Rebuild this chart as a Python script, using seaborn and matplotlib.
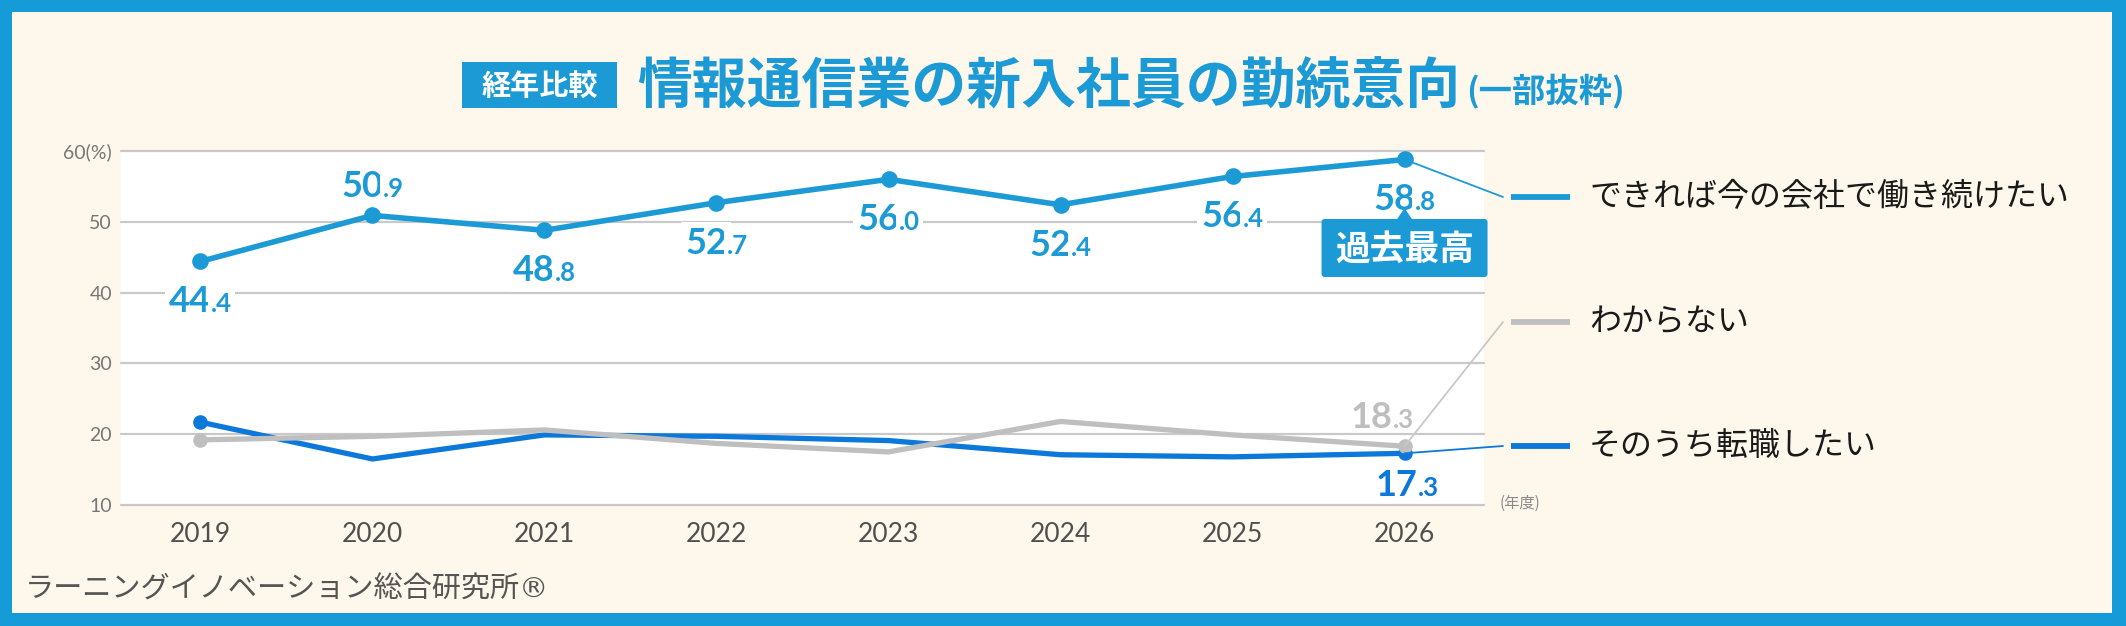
import matplotlib
matplotlib.use("Agg")
import matplotlib.pyplot as plt
from matplotlib.patches import Rectangle, FancyBboxPatch, Polygon
from matplotlib.lines import Line2D
from matplotlib.transforms import IdentityTransform
import seaborn as sns

# ---------------- data ----------------
years = [2019, 2020, 2021, 2022, 2023, 2024, 2025, 2026]
stay_values = [44.4, 50.9, 48.8, 52.7, 56.0, 52.4, 56.4, 58.8]
unknown_values = [19.2, 19.7, 20.6, 18.7, 17.5, 21.8, 19.9, 18.3]
change_values = [21.7, 16.5, 19.9, 19.7, 19.1, 17.1, 16.8, 17.3]
series_labels = ["できれば今の会社で働き続けたい", "わからない", "そのうち転職したい"]
y_ticks = [10, 20, 30, 40, 50, 60]
y_tick_labels = ["10", "20", "30", "40", "50", "60(%)"]
x_tick_labels = ["2019", "2020", "2021", "2022", "2023", "2024", "2025", "2026"]
title_tag = "経年比較"
title_main = "情報通信業の新入社員の勤続意向"
title_sub = "(一部抜粋)"
badge_text = "過去最高"
source_text = "ラーニングイノベーション総合研究所®"
x_unit_text = "(年度)"

# label placement for the top series (above / below the point)
stay_label_side = ["below", "above", "below", "below", "below", "below", "below", "below"]

# ---------------- style ----------------
W, H = 2126, 626
FRAME = "#159BD7"
CREAM = "#FDF8EB"
C_STAY = "#1C9AD6"
C_CHANGE = "#0C78D9"
C_UNK = "#BFBFBF"
JP = ["Noto Sans CJK JP", "DejaVu Sans"]
NUM = ["Lato", "DejaVu Sans"]

sns.set_style("white")
plt.rcParams["font.family"] = JP

fig = plt.figure(figsize=(W / 100, H / 100), dpi=100)
fig.patch.set_facecolor(FRAME)


def fx(x):
    return x / W


def fy(y):
    return 1 - y / H


fig.add_artist(Rectangle((fx(12), fy(613)), (2112 - 12) / W, (613 - 12) / H,
                         transform=fig.transFigure, fc=CREAM, ec="none", zorder=0))

ax = fig.add_axes([fx(121), fy(505), (1484 - 121) / W, (505 - 151) / H])
ax.set_zorder(1)
ax.set_facecolor("white")

# ---------------- lines ----------------
last = len(years) - 1
sns.lineplot(x=years, y=change_values, color=C_CHANGE, lw=3.8, marker="o",
             markevery=[0, last], ms=10.5, markeredgecolor=C_CHANGE,
             markeredgewidth=0, ax=ax, zorder=6, legend=False)
sns.lineplot(x=years, y=unknown_values, color=C_UNK, lw=3.8, marker="o",
             markevery=[0, last], ms=10.5, markeredgecolor=C_UNK,
             markeredgewidth=0, ax=ax, zorder=7, legend=False)
sns.lineplot(x=years, y=stay_values, color=C_STAY, lw=4.0, marker="o",
             ms=12, markeredgecolor=C_STAY, markeredgewidth=0, ax=ax,
             zorder=8, legend=False)

ax.set_xlim(years[0] - 0.462, years[-1] + 0.462)
ax.set_ylim(y_ticks[0], y_ticks[-1])
ax.set_yticks(y_ticks, y_tick_labels)
ax.set_xticks(years, x_tick_labels)
ax.set_xlabel("")
ax.set_ylabel("")
for s in ax.spines.values():
    s.set_visible(False)
ax.set_axisbelow(True)
ax.yaxis.grid(True, color="#C9C9C9", lw=1.6)
ax.xaxis.grid(False)
for gl in ax.yaxis.get_gridlines():
    gl.set_clip_on(False)
ax.tick_params(axis="y", length=0, pad=6.5, labelsize=14, labelcolor="#777777")
ax.tick_params(axis="x", length=0, pad=12, labelsize=19, labelcolor="#505050")
for t in ax.get_yticklabels() + ax.get_xticklabels():
    t.set_fontfamily(NUM)
    t.set_fontweight("normal")

# ---------------- value labels ----------------
composite = []


def value_label(x, y, value, color, dy, dx=0, big=26, small=18.5, box=True):
    s = f"{value:.1f}"
    ip, dp = s.split(".")
    bbox = dict(boxstyle="square,pad=0.12", fc="white", ec="none") if box else None
    t1 = ax.annotate(ip, (x, y), xytext=(0, dy), textcoords="offset pixels",
                     ha="right", va="baseline", fontsize=big, fontweight="bold",
                     color=color, family=NUM, bbox=bbox, zorder=5,
                     annotation_clip=False)
    t2 = ax.annotate("." + dp, (x, y), xytext=(0, dy), textcoords="offset pixels",
                     ha="left", va="baseline", fontsize=small, fontweight="bold",
                     color=color, family=NUM, bbox=bbox, zorder=5,
                     annotation_clip=False)
    composite.append((t1, t2, dx, dy))


for xv, yv, side in zip(years, stay_values, stay_label_side):
    value_label(xv, yv, yv, C_STAY, 18 if side == "above" else -51)

value_label(years[-1], unknown_values[-1], unknown_values[-1], C_UNK, 18, dx=-22, box=False)
value_label(years[-1], change_values[-1], change_values[-1], C_CHANGE, -43, dx=3, box=False)

renderer = fig.canvas.get_renderer()
for t1, t2, dx, dy in composite:
    w1 = t1.get_window_extent(renderer).width
    w2 = t2.get_window_extent(renderer).width
    off = dx - (w2 - w1) / 2.0
    t1.xyann = (off, dy)
    t2.xyann = (off, dy)


def data_to_img(x, y):
    px, py = ax.transData.transform((x, y))
    return px, H - py


# ---------------- badge 過去最高 ----------------
bx, by = data_to_img(years[-1], stay_values[-1])
box_w, box_top, box_bot = 166, by + 59.5, by + 117.5
ax.add_artist(FancyBboxPatch((bx - box_w / 2, H - box_bot), box_w, box_bot - box_top,
                             boxstyle="round,pad=0,rounding_size=3",
                             transform=IdentityTransform(), fc=C_STAY, ec="none",
                             clip_on=False, zorder=9))
ax.add_artist(Polygon([(bx - 8, H - box_top - 1), (bx + 8, H - box_top - 1), (bx, H - (by + 48.5))],
                      closed=True, transform=IdentityTransform(), fc=C_STAY, ec="none",
                      clip_on=False, zorder=9))
fig.text(fx(bx), fy((box_top + box_bot) / 2 + 1), badge_text, ha="center", va="center",
         fontsize=25, fontweight="bold", color="white", family=JP, zorder=10)

# ---------------- legend with connectors ----------------
legend_y = [197, 322, 446]
legend_colors = [C_STAY, C_UNK, C_CHANGE]
end_values = [stay_values[-1], unknown_values[-1], change_values[-1]]
conn_colors = [C_STAY, "#C8C8C8", C_CHANGE]
for ly, col, ccol, ev, lab in zip(legend_y, legend_colors, conn_colors, end_values, series_labels):
    px, py = data_to_img(years[-1], ev)
    fig.add_artist(Line2D([fx(px), fx(1503)], [fy(py), fy(ly)], transform=fig.transFigure,
                          color=ccol, lw=1.3, zorder=5))
    fig.add_artist(Line2D([fx(1511), fx(1570)], [fy(ly), fy(ly)], transform=fig.transFigure,
                          color=col, lw=4.2, solid_capstyle="butt", zorder=5))
    fig.text(fx(1589), fy(ly), lab, ha="left", va="center", fontsize=23,
             color="#1a1a1a", family=JP)

# ---------------- titles & notes ----------------
fig.add_artist(Rectangle((fx(462), fy(108)), (617 - 462) / W, (108 - 62) / H,
                         transform=fig.transFigure, fc=C_STAY, ec="none", zorder=2))
fig.text(fx(539.5), fy(86), title_tag, ha="center", va="center", fontsize=21,
         fontweight="bold", color="white", family=JP, zorder=3)
tmain = fig.text(fx(637), fy(87), title_main, ha="left", va="center", fontsize=39.5,
                 fontweight="bold", color=C_STAY, family=JP)
wmain = tmain.get_window_extent(renderer).width
fig.text(fx(637 + wmain + 6), fy(92), title_sub, ha="left", va="center", fontsize=24,
         fontweight="bold", color=C_STAY, family=JP)

fig.text(fx(1500), fy(503), x_unit_text, ha="left", va="center", fontsize=11,
         color="#8a8a8a", family=JP)
fig.text(fx(25), fy(590), source_text, ha="left", va="center", fontsize=21,
         color="#555555", family=["DejaVu Sans", "Noto Sans CJK JP"])

fig.savefig("out.png", dpi=100, facecolor=fig.get_facecolor())
